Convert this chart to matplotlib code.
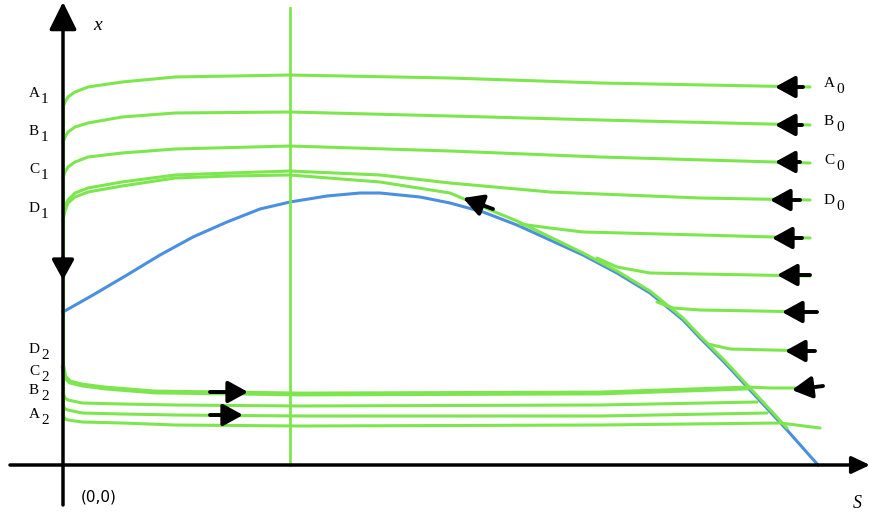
import matplotlib.pyplot as plt

# coordinates: S along the horizontal axis, x along the vertical axis, origin at (0,0)
blue_S = [0, 30, 64, 97, 130, 164, 197, 227, 264, 297, 317, 357, 387, 420, 454, 487,
          520, 554, 587, 620, 637, 662, 687, 724, 755]
blue_x = [153, 170, 190, 210, 228, 243, 256, 263, 269, 272, 272, 268, 262, 253, 240, 225,
          210, 192, 172, 145, 127, 102, 75, 35, 0]

# upper trajectories (A, B, C, D): from the right towards the x axis
A_S = [0, 2, 5, 12, 25, 59, 112, 227, 387, 537, 747]
A_x = [358, 363, 368, 373, 378, 383, 388, 390, 387, 382, 378]
B_S = [0, 2, 5, 12, 25, 59, 112, 227, 387, 537, 747]
B_x = [322, 328, 333, 338, 342, 348, 352, 353, 349, 345, 340]
C_S = [0, 2, 5, 12, 25, 59, 112, 227, 387, 537, 747]
C_x = [287, 293, 298, 303, 308, 312, 316, 319, 314, 308, 302]
D_S = [0, 2, 5, 12, 25, 59, 112, 167, 227, 317, 387, 487, 637, 747]
D_x = [252, 259, 265, 272, 277, 283, 290, 292, 294, 290, 282, 273, 267, 265]
# trajectory running along the blue curve
E_S = [0, 2, 5, 12, 25, 59, 112, 167, 227, 317, 387, 420, 454, 487, 520, 554, 587,
       620, 637, 662, 687, 724]
E_x = [245, 254, 262, 268, 273, 279, 287, 289, 290, 283, 272, 258, 244, 228, 212, 194, 174,
       147, 129, 104, 77, 37]

# trajectories entering from the right and joining the blue curve
F_S = [457, 487, 520, 637, 747]
F_x = [241, 237, 233, 230, 227]
G_S = [534, 554, 587, 637, 747]
G_x = [207, 198, 192, 191, 189]
H_S = [594, 610, 637, 750]
H_x = [163, 157, 155, 153]
I_S = [645, 667, 750]
I_x = [121, 116, 114]
J_S = [684, 707, 750]
J_x = [78, 77, 77]

# lower trajectories (D2, C2, B2, A2)
L1_S = [0, 2, 7, 19, 42, 92, 170, 237, 537, 684]
L1_x = [98, 88, 83, 80, 77, 73, 72, 71, 72, 77]
L2_S = [0, 2, 5, 19, 59, 112, 237, 537, 694]
L2_x = [72, 67, 65, 62, 61, 60, 59, 60, 63]
L3_S = [0, 2, 5, 19, 59, 112, 237, 537, 704]
L3_x = [60, 56, 55, 52, 51, 50, 49, 49, 52]
L4_S = [0, 2, 5, 19, 59, 112, 237, 537, 717, 757]
L4_x = [50, 46, 45, 43, 42, 40, 39, 40, 42, 37]

upper_labels = ["A", "B", "C", "D"]
upper_label_x = [368, 330, 292, 253]
lower_labels = ["D", "C", "B", "A"]
lower_label_x = [112, 90, 71, 47]
right_label_x = [378, 340, 301, 261]

# direction arrows: (tail S, tail x, tip S, tip x)
arrows = [
    (740, 378, 712, 378), (739, 340, 712, 340), (737, 303, 712, 303),
    (737, 265, 707, 265), (739, 227, 709, 227), (747, 190, 714, 190),
    (754, 153, 719, 153), (752, 114, 722, 114), (760, 79, 729, 75),
    (430, 256, 400, 267), (0, 207, 0, 185),
    (147, 73, 185, 73), (147, 50, 180, 50),
]

green = "#7de64e"
blue = "#4a8fe0"

fig = plt.figure(figsize=(8.7, 5.15), dpi=100)
ax = fig.add_axes([0, 0, 1, 1])
ax.set_xlim(-63, 807)
ax.set_ylim(-50, 465)
ax.axis("off")

# axes with arrow heads
ax.annotate("", xy=(0, 463), xytext=(0, -40),
            arrowprops=dict(arrowstyle="-|>,head_length=0.85,head_width=0.42",
                            lw=2.5, color="black", mutation_scale=20,
                            shrinkA=0, shrinkB=0))
ax.annotate("", xy=(807, 0), xytext=(-53, 0),
            arrowprops=dict(arrowstyle="-|>,head_length=0.55,head_width=0.26",
                            lw=2.5, color="black", mutation_scale=20,
                            shrinkA=0, shrinkB=0))

ax.plot([227, 227], [0, 457], color=green, lw=2)
ax.plot([0, 0], [47, 358], color=green, lw=2.2)

for s, x in [(A_S, A_x), (B_S, B_x), (C_S, C_x), (D_S, D_x), (E_S, E_x),
             (F_S, F_x), (G_S, G_x), (H_S, H_x), (I_S, I_x), (J_S, J_x),
             (L2_S, L2_x), (L3_S, L3_x), (L4_S, L4_x)]:
    ax.plot(s, x, color=green, lw=2.2, solid_capstyle="round", solid_joinstyle="round")
ax.plot(L1_S, L1_x, color=green, lw=3.5, solid_capstyle="round", solid_joinstyle="round")

ax.plot(blue_S, blue_x, color=blue, lw=2.2, zorder=1.5, solid_joinstyle="round")

for t_s, t_x, h_s, h_x in arrows:
    ax.annotate("", xy=(h_s, h_x), xytext=(t_s, t_x),
                arrowprops=dict(arrowstyle="-|>,head_length=0.6,head_width=0.33",
                                lw=2.8, color="black", mutation_scale=20,
                                shrinkA=0, shrinkB=0), zorder=5)

serif = "Liberation Serif"


def label(s, x, letter, sub):
    ax.text(s, x, letter, family=serif, fontsize=11, ha="left", va="baseline")
    ax.text(s + 12, x - 6, sub, family=serif, fontsize=11, ha="left", va="baseline")


for name, x in zip(upper_labels, upper_label_x):
    label(-34, x, name, "1")
for name, x in zip(lower_labels, lower_label_x):
    label(-34, x, name, "2")
for name, x in zip(upper_labels, right_label_x):
    label(761, x, name, "0")

ax.text(35, 440, "x", family=serif, style="italic", fontsize=14, ha="center", va="center")
ax.text(794, -39, "S", family=serif, style="italic", fontsize=13, ha="center", va="center")
ax.text(36, -32, "(0,0)", family="DejaVu Sans", fontsize=11, ha="center", va="center")

fig.savefig("out.png", dpi=100)
